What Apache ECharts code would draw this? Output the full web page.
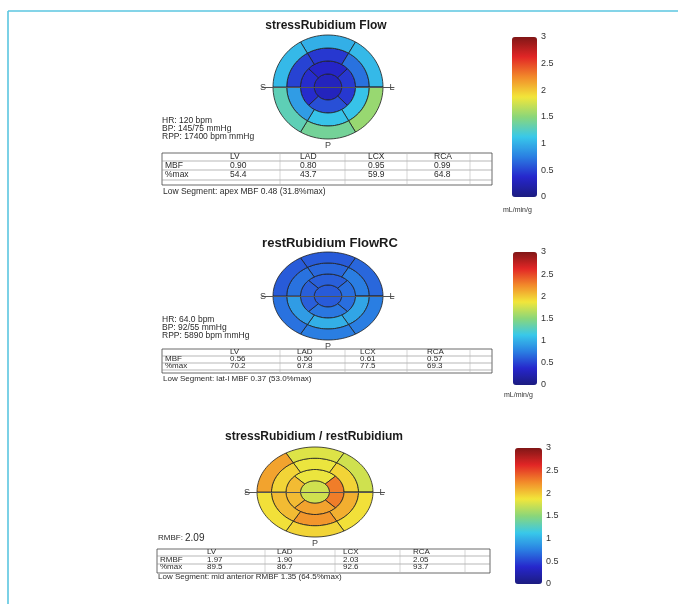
<!DOCTYPE html>
<html><head><meta charset="utf-8">
<script src="https://cdn.jsdelivr.net/npm/echarts@6/dist/echarts.min.js"></script>
<style>html,body{margin:0;padding:0;background:#fff}#c{width:678px;height:604px}</style>
</head><body><div id="c"></div>
<script>
// ---------------- data ----------------
const titles = ['stressRubidium Flow', 'restRubidium FlowRC', 'stressRubidium / restRubidium'];
// segment order -> apical: ant, lat, inf, sept ; mid/basal: ant, antlat, inflat, inf, infsept, antsept
const stressApex = [0.30];
const stressApical = [0.35, 0.45, 0.55, 0.40];
const stressMid = [0.45, 0.70, 1.10, 1.10, 0.90, 0.50];
const stressBasal = [1.00, 1.05, 1.55, 1.40, 1.30, 1.05];
const restApex = [0.60];
const restApical = [0.62, 0.68, 0.72, 0.62];
const restMid = [0.65, 0.75, 0.95, 1.00, 0.90, 0.70];
const restBasal = [0.60, 0.65, 0.75, 0.75, 0.70, 0.60];
const ratioApex = [1.75];
const ratioApical = [1.85, 2.30, 2.15, 2.05];
const ratioMid = [1.85, 1.95, 2.10, 2.20, 2.05, 1.95];
const ratioBasal = [1.80, 1.75, 1.90, 1.95, 1.90, 2.15];
const colorbarTicks = [0, 0.5, 1, 1.5, 2, 2.5, 3];
const unitLabel = 'mL/min/g';
const orientLabels = ['S', 'L', 'P'];
const tableCols = ['LV', 'LAD', 'LCX', 'RCA'];
const stressInfo = ['HR: 120 bpm', 'BP: 145/75 mmHg', 'RPP: 17400 bpm mmHg'];
const stressRowLabels = ['MBF', '%max'];
const stressMBF = ['0.90', '0.80', '0.95', '0.99'];
const stressPct = ['54.4', '43.7', '59.9', '64.8'];
const stressLow = 'Low Segment: apex MBF 0.48 (31.8%max)';
const restInfo = ['HR: 64.0 bpm', 'BP: 92/55 mmHg', 'RPP: 5890 bpm mmHg'];
const restRowLabels = ['MBF', '%max'];
const restMBF = ['0.56', '0.50', '0.61', '0.57'];
const restPct = ['70.2', '67.8', '77.5', '69.3'];
const restLow = 'Low Segment: lat-l MBF 0.37 (53.0%max)';
const ratioInfoLabel = 'RMBF:';
const ratioInfoValue = '2.09';
const ratioRowLabels = ['RMBF', '%max'];
const ratioRMBF = ['1.97', '1.90', '2.03', '2.05'];
const ratioPct = ['89.5', '86.7', '92.6', '93.7'];
const ratioLow = 'Low Segment: mid anterior RMBF 1.35 (64.5%max)';

// ---------------- geometry (17-segment layout) ----------------
const ringEdges = [0, 0.25, 0.5, 0.75, 1];
const apicalAngles = [[-45, 45], [45, 135], [135, 225], [225, 315]];
const sixAngles = [[-30, 30], [30, 90], [90, 150], [150, 210], [210, 270], [270, 330]];
function buildItems(apex, apical, mid, basal) {
  const items = [[ringEdges[0], ringEdges[1], 0, 360, apex[0]]];
  apical.forEach((v, i) => items.push([ringEdges[1], ringEdges[2], apicalAngles[i][0], apicalAngles[i][1], v]));
  mid.forEach((v, i) => items.push([ringEdges[2], ringEdges[3], sixAngles[i][0], sixAngles[i][1], v]));
  basal.forEach((v, i) => items.push([ringEdges[3], ringEdges[4], sixAngles[i][0], sixAngles[i][1], v]));
  return items;
}
function renderSeg(params, api) {
  const r0 = api.value(0), r1 = api.value(1), a0 = api.value(2), a1 = api.value(3);
  const n = Math.max(10, Math.ceil((a1 - a0) / 3));
  const pts = [];
  for (let k = 0; k <= n; k++) {
    const a = (a0 + (a1 - a0) * k / n) * Math.PI / 180;
    pts.push(api.coord([r1 * Math.sin(a), r1 * Math.cos(a)]));
  }
  if (r0 > 0) {
    for (let k = n; k >= 0; k--) {
      const a = (a0 + (a1 - a0) * k / n) * Math.PI / 180;
      pts.push(api.coord([r0 * Math.sin(a), r0 * Math.cos(a)]));
    }
  }
  return { type: 'polygon', shape: { points: pts },
    style: { fill: api.visual('color'), stroke: '#1e1e1e', lineWidth: 0.8 } };
}

const jet = ['#1c1c80', '#2626cc', '#2a7ee2', '#38c8ea', '#8ad67a', '#f2e63a', '#f28a2a', '#e22626', '#801616'];
const FONT = '"Liberation Sans", Arial, sans-serif';

// panel layout
const bulls = [
  { cx: 328, cy: 87, rx: 55, ry: 52 },
  { cx: 328, cy: 296, rx: 55, ry: 44 },
  { cx: 315, cy: 492, rx: 58, ry: 45 }
];
const cbs = [
  { left: 512, top: 37, w: 25, h: 160, unitY: 210 },
  { left: 513, top: 252, w: 24, h: 133, unitY: 395 },
  { left: 515, top: 448, w: 27, h: 136, unitY: null }
];
const titlePos = [[326, 26], [330, 243], [314, 437]];

const grids = [], xAxes = [], yAxes = [], series = [], visualMaps = [];
const panelData = [
  buildItems(stressApex, stressApical, stressMid, stressBasal),
  buildItems(restApex, restApical, restMid, restBasal),
  buildItems(ratioApex, ratioApical, ratioMid, ratioBasal)
];
bulls.forEach((b, i) => {
  grids.push({ left: b.cx - 1.2 * b.rx, top: b.cy - 1.2 * b.ry, width: 2.4 * b.rx, height: 2.4 * b.ry });
  xAxes.push({ type: 'value', gridIndex: i, min: -1.2, max: 1.2, z: 10,
    axisLine: { show: true, onZero: true, lineStyle: { color: '#555', width: 1 } },
    axisTick: { show: false }, axisLabel: { show: false }, splitLine: { show: false } });
  yAxes.push({ type: 'value', gridIndex: i, min: -1.2, max: 1.2, show: false });
  series.push({ type: 'custom', xAxisIndex: i, yAxisIndex: i, renderItem: renderSeg,
    data: panelData[i], dimensions: ['r0', 'r1', 'a0', 'a1', 'v'], encode: { x: -1, y: -1 }, silent: true });
});
cbs.forEach((c, i) => {
  grids.push({ left: c.left, top: c.top, width: c.w, height: c.h });
  xAxes.push({ type: 'value', gridIndex: 3 + i, show: false, min: 0, max: 1 });
  yAxes.push({ type: 'value', gridIndex: 3 + i, min: colorbarTicks[0], max: colorbarTicks[colorbarTicks.length - 1],
    interval: colorbarTicks[1] - colorbarTicks[0], position: 'right',
    axisLine: { show: false }, splitLine: { show: false }, axisTick: { show: false },
    axisLabel: { fontSize: 9, color: '#333', margin: 4, fontFamily: FONT,
      formatter: v => String(colorbarTicks.find(t => Math.abs(t - v) < 1e-6)) } });
  visualMaps.push({ type: 'continuous', seriesIndex: i, dimension: 4, min: 0, max: 3,
    calculable: false, show: true, left: c.left, top: c.top, itemWidth: c.w, itemHeight: c.h,
    padding: 0, inRange: { color: jet }, hoverLink: false });
});

// ---------- text / table graphics ----------
const G = [];
function txt(x, y, s, size, opts) {
  opts = opts || {};
  G.push({ type: 'text', z: 50, style: { text: s, x: x, y: y, font: (opts.bold ? 'bold ' : '') + size + 'px ' + FONT,
    fill: opts.color || '#2a2a2a', align: opts.align || 'left', verticalAlign: 'middle',
    textAlign: opts.align || 'left', textVerticalAlign: 'middle' } });
}
function line(x1, y1, x2, y2, color, w) {
  G.push({ type: 'line', z: 49, shape: { x1: x1, y1: y1, x2: x2, y2: y2 }, style: { stroke: color, lineWidth: w } });
}
// page frame
line(8, 11, 678, 11, '#5bc6e0', 1.6);
line(8, 11, 8, 604, '#5bc6e0', 1.6);

titles.forEach((t, i) => txt(titlePos[i][0], titlePos[i][1], t, i === 1 ? 13 : 12, { bold: true, align: 'center', color: '#1a1a1a' }));
// orientation labels
bulls.forEach((b, i) => {
  txt(b.cx - b.rx - 10, b.cy + 1, orientLabels[0], 9, { align: 'center', color: '#444' });
  txt(b.cx + b.rx + 9, b.cy + 1, orientLabels[1], 9, { align: 'center', color: '#444' });
  txt(b.cx, b.cy + b.ry + 7, orientLabels[2], 9, { align: 'center', color: '#444' });
});
// unit labels
cbs.forEach(c => { if (c.unitY) txt(c.left - 9, c.unitY, unitLabel, 7, { color: '#333' }); });
// info text
stressInfo.forEach((s, i) => txt(162, 121 + i * 8, s, 8.5));
restInfo.forEach((s, i) => txt(162, 320 + i * 8, s, 8.5));
txt(158, 538, ratioInfoLabel, 8);
txt(185, 538, ratioInfoValue, 10);

function table(cfg, rowLabels, rows, low) {
  G.push({ type: 'rect', z: 49, shape: { x: cfg.x0, y: cfg.top, width: cfg.x1 - cfg.x0, height: cfg.bottom - cfg.top },
    style: { fill: 'none', stroke: '#444', lineWidth: 0.8 } });
  cfg.hl.forEach(y => line(cfg.x0, y, cfg.x1, y, '#888', 0.6));
  cfg.vl.forEach(x => line(x, cfg.top, x, cfg.bottom, '#bbb', 0.6));
  tableCols.forEach((t, i) => txt(cfg.cols[i], cfg.ry[0], t, cfg.fs));
  rowLabels.forEach((l, r) => {
    txt(cfg.x0 + 3, cfg.ry[r + 1], l, cfg.fs);
    rows[r].forEach((v, i) => txt(cfg.cols[i], cfg.ry[r + 1], v, cfg.fs));
  });
  txt(cfg.x0 + 1, cfg.lowY, low, cfg.fs);
}
table({ x0: 162, x1: 492, top: 153, bottom: 185, hl: [161, 170, 180], vl: [280, 345, 407, 470],
  cols: [230, 300, 368, 434], ry: [157, 166, 175], lowY: 192, fs: 8.5 },
  stressRowLabels, [stressMBF, stressPct], stressLow);
table({ x0: 162, x1: 492, top: 349, bottom: 373, hl: [356, 363, 370], vl: [280, 345, 407, 470],
  cols: [230, 297, 360, 427], ry: [352, 359, 366], lowY: 379, fs: 8 },
  restRowLabels, [restMBF, restPct], restLow);
table({ x0: 157, x1: 490, top: 549, bottom: 573, hl: [556, 564], vl: [265, 335, 400, 465],
  cols: [207, 277, 343, 413], ry: [552, 560, 567], lowY: 577, fs: 8 },
  ratioRowLabels, [ratioRMBF, ratioPct], ratioLow);

const chart = echarts.init(document.getElementById('c'), null, { renderer: 'canvas' });
chart.setOption({
  animation: false,
  backgroundColor: '#ffffff',
  grid: grids, xAxis: xAxes, yAxis: yAxes, series: series, visualMap: visualMaps,
  graphic: { elements: G }
});
</script></body></html>
